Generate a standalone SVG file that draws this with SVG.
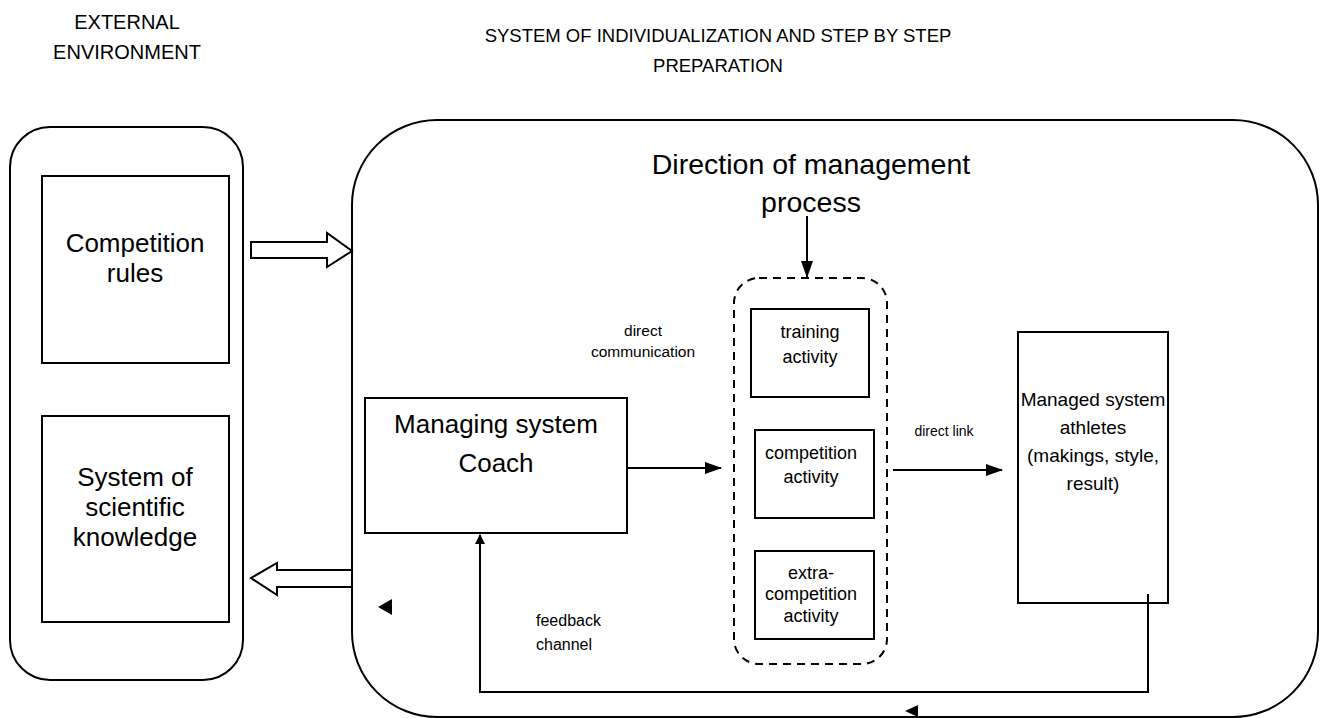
<svg xmlns="http://www.w3.org/2000/svg" width="1327" height="718" viewBox="0 0 1327 718">
<defs>
<marker id="ah" markerWidth="10" markerHeight="10" refX="9" refY="5" orient="auto" markerUnits="userSpaceOnUse" viewBox="0 0 10 10"><path d="M0,0 L10,5 L0,10 z" fill="#000"/></marker>
<marker id="ahs" markerWidth="17" markerHeight="12" refX="16" refY="6" orient="auto" markerUnits="userSpaceOnUse" viewBox="0 0 17 12"><path d="M0,0 L17,6 L0,12 z" fill="#000"/></marker>
</defs>
<style>
text{font-family:"Liberation Sans",Arial,sans-serif;fill:#000;text-anchor:middle}
.t20{font-size:20px}
.tt{font-size:18.5px}
.tb{font-size:26px}
.tm{font-size:19px}
.t24{font-size:28.5px}
.t18{font-size:18px}
.t15{font-size:15.5px}
.tf{font-size:16px;text-anchor:start}
.t13{font-size:14px}
.box{fill:#fff;stroke:#000;stroke-width:2}
.frame{fill:none;stroke:#000;stroke-width:2}
.dash{fill:none;stroke:#000;stroke-width:2;stroke-dasharray:8,6}
.ln{fill:none;stroke:#000;stroke-width:2}
.open{fill:#fff;stroke:#000;stroke-width:2;stroke-linejoin:miter}
</style>
<rect width="1327" height="718" fill="#fff"/>
<text class="t20" x="127" y="29">EXTERNAL</text>
<text class="t20" x="127" y="59">ENVIRONMENT</text>
<text class="tt" x="718" y="42">SYSTEM OF INDIVIDUALIZATION AND STEP BY STEP</text>
<text class="tt" x="718" y="72">PREPARATION</text>

<g id="external">
<rect class="frame" x="10" y="127" width="233" height="553" rx="40" ry="40"/>
</g>
<g id="competition-rules">
<rect class="box" x="42" y="176" width="187" height="187"/>
<text class="tb" x="135" y="252">Competition</text>
<text class="tb" x="135" y="282">rules</text>
</g>
<g id="scientific-knowledge">
<rect class="box" x="42" y="416" width="187" height="206"/>
<text class="tb" x="135" y="486">System of</text>
<text class="tb" x="135" y="516">scientific</text>
<text class="tb" x="135" y="546">knowledge</text>
</g>
<g id="system">
<rect class="frame" x="352" y="120" width="966" height="597" rx="85" ry="85"/>
<text class="t24" x="811" y="174">Direction of management</text>
<text class="t24" x="811" y="212">process</text>
</g>
<g id="activities">
<rect class="dash" x="734" y="278" width="153" height="386" rx="25" ry="25"/>
</g>
<g id="training">
<rect class="box" x="751" y="309" width="118" height="88"/>
<text class="t18" x="810" y="338">training</text>
<text class="t18" x="810" y="363">activity</text>
</g>
<g id="competition">
<rect class="box" x="755" y="430" width="119" height="88"/>
<text class="t18" x="811" y="459">competition</text>
<text class="t18" x="811" y="483">activity</text>
</g>
<g id="extra">
<rect class="box" x="755" y="551" width="119" height="88"/>
<text class="t18" x="811" y="579">extra-</text>
<text class="t18" x="811" y="600">competition</text>
<text class="t18" x="811" y="622">activity</text>
</g>
<g id="coach">
<rect class="box" x="365" y="398" width="262" height="135"/>
<text class="tb" x="496" y="433">Managing system</text>
<text class="tb" x="496" y="472">Coach</text>
</g>
<g id="athletes">
<rect class="box" x="1018" y="332" width="150" height="271"/>
<text class="tm" x="1093" y="406">Managed system</text>
<text class="tm" x="1093" y="434">athletes</text>
<text class="tm" x="1093" y="462">(makings, style,</text>
<text class="tm" x="1093" y="490">result)</text>
</g>
<g id="connectors">
<path class="open" d="M251,242 L327,242 L327,233 L352,251 L327,267 L327,258 L251,258 Z"/>
<path class="open" d="M351,570 L277,570 L277,563 L251,578 L277,595 L277,587 L351,587"/>
<line class="ln" x1="807" y1="216" x2="807" y2="277" marker-end="url(#ahs)"/>
<line class="ln" x1="627" y1="468" x2="721" y2="468" marker-end="url(#ahs)"/>
<line class="ln" x1="893" y1="470" x2="1002" y2="470" marker-end="url(#ahs)"/>
<polyline class="ln" points="1148,594 1148,692 480,692 480,535" marker-end="url(#ah)"/>
<path d="M378,607 L392,599 L392,615 Z" fill="#000"/>
<path d="M905,711 L918,705 L918,717 Z" fill="#000"/>
<text class="t15" x="643" y="336">direct</text>
<text class="t15" x="643" y="357">communication</text>
<text class="t13" x="944" y="436">direct link</text>
<text class="tf" x="536" y="626">feedback</text>
<text class="tf" x="536" y="650">channel</text>
</g>
</svg>
